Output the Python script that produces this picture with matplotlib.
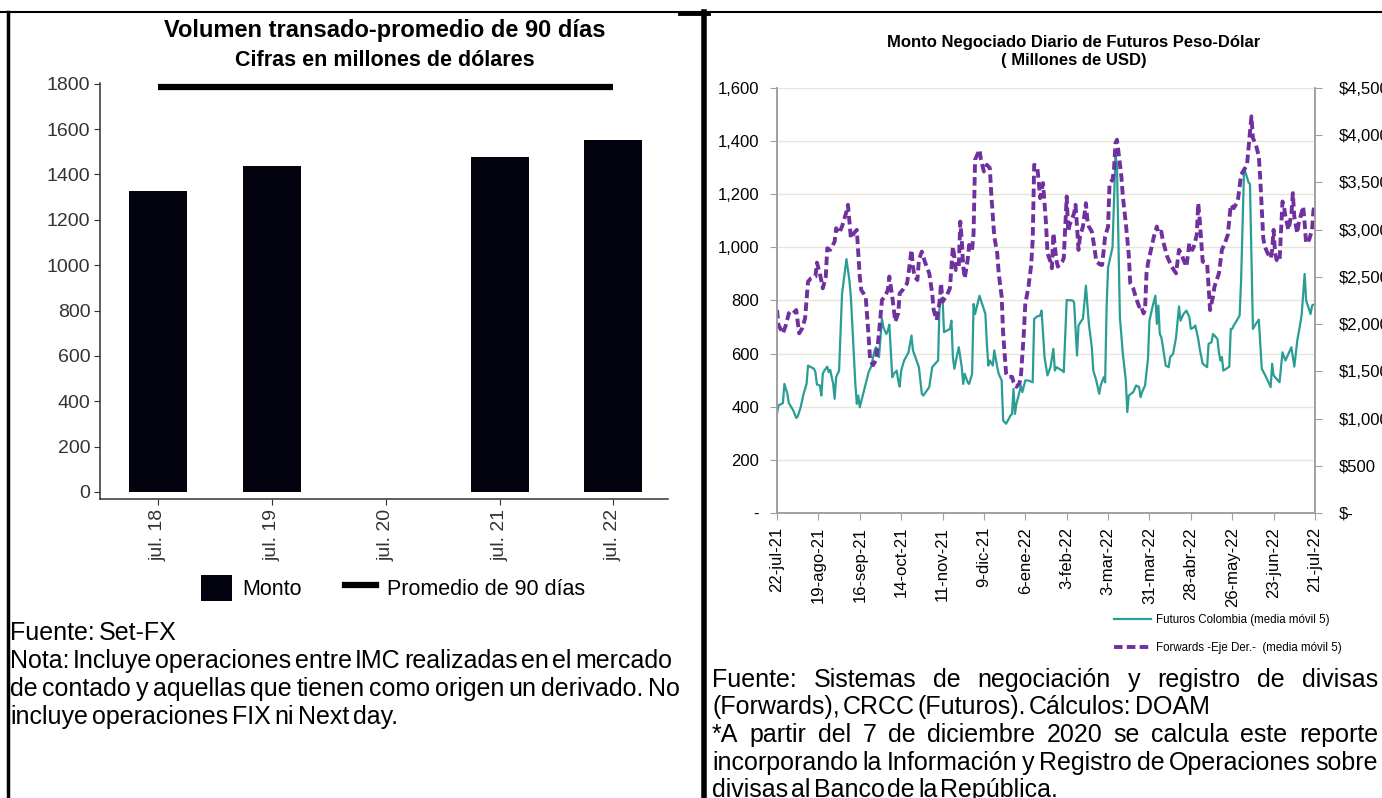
import numpy as np
import pandas as pd
import matplotlib
matplotlib.use('Agg')
import matplotlib.pyplot as plt
from matplotlib.lines import Line2D
from matplotlib.patches import Patch

plt.rcParams['font.family'] = ['Liberation Sans', 'DejaVu Sans']

# --- panel izquierdo: volumen transado (millones de USD)
categorias = ['jul. 18', 'jul. 19', 'jul. 20', 'jul. 21', 'jul. 22']
monto = [1325, 1437, np.nan, 1478, 1552]
promedio_90 = [1785, 1785, 1785, 1785, 1785]

# --- panel derecho: dias desde el 22-jul-21 y montos (media movil 5)
inicio = pd.Timestamp('2021-07-22')
fut_dias = [0, 1, 4, 5, 7, 8, 11, 13, 14, 16, 18, 20, 21, 25, 26, 27, 29, 30, 31, 32, 34, 35, 36, 38, 39, 40,
            42, 44, 47, 49, 50, 53, 54, 55, 56, 58, 60, 62, 64, 65, 66, 67, 69, 71, 72, 74, 75, 76, 78, 79,
            81, 82, 83, 84, 86, 89, 91, 92, 96, 98, 99, 103, 105, 107, 109, 110, 112, 113, 117, 118, 119,
            120, 122, 123, 125, 126, 127, 129, 130, 132, 133, 134, 137, 141, 142, 143, 144, 146, 147, 149,
            150, 152, 153, 155, 156, 158, 159, 160, 161, 162, 164, 165, 166, 168, 170, 173, 174, 176, 178,
            179, 181, 183, 185, 187, 188, 189, 193, 194, 196, 200, 201, 203, 204, 206, 207, 209, 211, 213,
            214, 216, 218, 219, 221, 222, 223, 224, 227, 229, 230, 232, 234, 236, 237, 238, 241, 243, 245,
            246, 247, 249, 251, 252, 254, 256, 257, 258, 259, 260, 261, 263, 265, 266, 268, 270, 272, 273,
            275, 277, 279, 280, 282, 283, 285, 286, 288, 291, 292, 294, 295, 296, 298, 299, 300, 301, 302,
            304, 306, 307, 308, 309, 311, 313, 314, 316, 317, 319, 320, 322, 324, 326, 328, 331, 334, 335,
            336, 340, 342, 344, 346, 348, 350, 352, 354, 355, 357, 358, 361, 362, 364]
fut_monto = [373, 405, 414, 486, 449, 414, 386, 358, 363, 398, 449, 486, 555, 543, 530, 484, 480, 442, 524, 536,
             551, 530, 539, 486, 430, 511, 536, 825, 956, 875, 812, 486, 411, 442, 398, 442, 486, 530, 555,
             587, 612, 624, 587, 731, 699, 674, 687, 709, 511, 524, 536, 499, 476, 536, 574, 605, 668, 612,
             549, 449, 442, 474, 549, 562, 574, 793, 812, 681, 693, 724, 587, 543, 599, 624, 549, 486, 524,
             492, 486, 524, 787, 749, 818, 749, 637, 555, 574, 555, 612, 549, 524, 499, 348, 336, 346, 367,
             373, 467, 373, 411, 455, 480, 455, 499, 499, 492, 731, 740, 743, 762, 587, 518, 549, 618, 536,
             549, 536, 530, 802, 800, 793, 593, 706, 724, 731, 856, 712, 624, 536, 499, 449, 480, 511, 492,
             775, 925, 1000, 1345, 1313, 737, 599, 499, 380, 442, 455, 480, 474, 436, 455, 480, 580, 724, 775,
             818, 712, 781, 674, 662, 630, 555, 549, 587, 599, 662, 778, 724, 749, 762, 737, 693, 699, 706,
             655, 618, 562, 549, 637, 643, 674, 668, 655, 605, 574, 587, 536, 543, 551, 693, 693, 706, 724,
             743, 875, 1295, 1282, 1245, 1238, 693, 712, 728, 543, 511, 474, 562, 518, 492, 605, 574, 599,
             624, 551, 649, 712, 749, 900, 800, 749, 781, 787]
fwd_dias = [0, 1, 4, 6, 8, 9, 11, 13, 15, 17, 19, 21, 23, 26, 27, 29, 31, 33, 34, 36, 39, 40, 42, 44, 47, 48,
            50, 52, 54, 56, 57, 60, 62, 63, 65, 67, 69, 71, 73, 75, 76, 78, 80, 82, 83, 85, 88, 89, 91, 92,
            93, 95, 96, 98, 100, 103, 105, 106, 108, 110, 111, 112, 115, 117, 119, 120, 121, 123, 124, 125,
            126, 127, 129, 130, 132, 133, 134, 135, 137, 138, 140, 142, 144, 145, 147, 149, 150, 152, 153,
            155, 156, 159, 160, 162, 164, 165, 167, 168, 170, 172, 173, 174, 176, 177, 178, 179, 180, 181,
            182, 183, 185, 186, 187, 188, 189, 190, 193, 194, 196, 197, 198, 201, 202, 204, 205, 207, 209,
            210, 211, 213, 215, 216, 219, 220, 222, 224, 225, 227, 228, 229, 230, 231, 233, 234, 236, 238,
            239, 241, 243, 245, 246, 248, 249, 250, 251, 253, 255, 257, 258, 260, 261, 264, 267, 270, 272,
            274, 275, 277, 279, 281, 282, 284, 285, 286, 288, 291, 292, 293, 295, 296, 299, 301, 303, 305,
            307, 309, 311, 312, 314, 316, 318, 320, 321, 322, 324, 326, 327, 329, 330, 332, 334, 335, 336,
            337, 338, 340, 342, 343, 344, 346, 348, 349, 350, 352, 353, 356, 357, 358, 360, 362, 363, 364]
fwd_monto = [2149, 1990, 1902, 1990, 2114, 2132, 2114, 2149, 1902, 1955, 2061, 2450, 2485, 2503, 2651, 2538,
             2379, 2503, 2803, 2786, 2874, 3015, 2962, 3033, 3192, 3263, 2909, 2962, 2998, 2503, 2361, 2291,
             1866, 1619, 1566, 1619, 1902, 2255, 2291, 2361, 2503, 2291, 2026, 2114, 2326, 2361, 2432, 2538,
             2786, 2609, 2503, 2467, 2680, 2768, 2662, 2538, 2326, 2149, 2043, 2238, 2432, 2238, 2308, 2379,
             2821, 2715, 2573, 2609, 3086, 2892, 2609, 2485, 2680, 2839, 2786, 2962, 3740, 3775, 3846, 3740,
             3616, 3687, 3652, 3369, 2927, 2750, 2538, 2291, 1902, 1478, 1442, 1442, 1389, 1336, 1372, 1442,
             1902, 2220, 2379, 2627, 2892, 3687, 3669, 3528, 3334, 3405, 3493, 3280, 3068, 2750, 2662, 2591,
             2962, 2821, 2680, 2609, 2662, 2697, 3351, 2980, 3051, 3174, 3263, 2786, 2927, 3033, 3280, 3104,
             3033, 2980, 2786, 2662, 2627, 2627, 2927, 3033, 3493, 3528, 3634, 3917, 3952, 3828, 3563, 3351,
             3068, 2733, 2432, 2379, 2273, 2185, 2202, 2114, 2149, 2538, 2644, 2786, 2927, 3033, 2962, 2980,
             2892, 2715, 2609, 2538, 2786, 2733, 2680, 2609, 2856, 2786, 2821, 2945, 3280, 3104, 2662, 2644,
             2397, 2149, 2291, 2397, 2538, 2786, 2856, 2945, 3263, 3228, 3280, 3334, 3581, 3634, 3687, 4023,
             4200, 3970, 3899, 3775, 3528, 2909, 2821, 2750, 2697, 2786, 2998, 2750, 2680, 2662, 3298, 3245,
             3139, 2998, 3157, 3387, 3139, 2962, 3068, 3245, 3068, 2856, 2892, 2998, 3210, 3245]
fechas_ticks = ['22-jul-21', '19-ago-21', '16-sep-21', '14-oct-21', '11-nov-21', '9-dic-21', '6-ene-22',
                '3-feb-22', '3-mar-22', '31-mar-22', '28-abr-22', '26-may-22', '23-jun-22', '21-jul-22']
izq_ticks = ['-', '200', '400', '600', '800', '1,000', '1,200', '1,400', '1,600']
der_ticks = ['$-', '$500', '$1,000', '$1,500', '$2,000', '$2,500', '$3,000', '$3,500', '$4,000', '$4,500']

W, H = 1382, 798
fig = plt.figure(figsize=(W / 100, H / 100), dpi=100)


def fx(px):
    return px / W


def fy(py):
    return 1 - py / H


# marco de la tabla
for xs, ys, lw in [([0, W], [12, 12], 1.5), ([680, 708], [13, 13], 3.5),
                   ([8, 8], [12, H], 2.5), ([704, 704], [12, H], 4)]:
    fig.add_artist(Line2D([fx(v) for v in xs], [fy(v) for v in ys], color='black', lw=lw,
                          transform=fig.transFigure))

# ---------- grafico izquierdo
ax1 = fig.add_axes([fx(100), fy(499), (668 - 100) / W, (499 - 83) / H])
x = np.arange(len(categorias))
ax1.bar(x, monto, width=0.51, color='#03030F')
ax1.plot(x, promedio_90, color='black', lw=4.5, solid_capstyle='butt')
ax1.set_xlim(-0.51, 4.48)
ax1.set_ylim(-31, 1803)
ax1.set_yticks(range(0, 1801, 200))
ax1.set_xticks(x)
ax1.set_xticklabels(categorias, rotation=90)
for s in ['top', 'right']:
    ax1.spines[s].set_visible(False)
for s in ['left', 'bottom']:
    ax1.spines[s].set_color('#333333')
    ax1.spines[s].set_linewidth(1.1)
ax1.tick_params(direction='out', length=4, color='#333333', labelsize=14, labelcolor='#333333', pad=3)
ax1.legend([Patch(facecolor='#03030F'), Line2D([], [], color='black', lw=4.5)],
           ['Monto', 'Promedio de 90 días'], ncol=2, loc='center',
           bbox_to_anchor=(fx(393), fy(588)), bbox_transform=fig.transFigure, frameon=False,
           fontsize=15.5, handlelength=1.45, handleheight=1.45, handletextpad=0.5, columnspacing=2.0)

fig.text(fx(385), fy(30), 'Volumen transado-promedio de 90 días', ha='center', va='center',
         fontsize=17, fontweight='bold')
fig.text(fx(385), fy(60), 'Cifras en millones de dólares', ha='center', va='center',
         fontsize=15.5, fontweight='bold')

# ---------- grafico derecho
ax2 = fig.add_axes([fx(777), fy(513), (1315 - 777) / W, (513 - 88) / H])
fut_fechas = inicio + pd.to_timedelta(fut_dias, unit='D')
fwd_fechas = inicio + pd.to_timedelta(fwd_dias, unit='D')
l1, = ax2.plot(fut_fechas, fut_monto, color='#2A9D94', lw=1.6)
ax2.set_ylim(0, 1600)
ax2.set_yticks(range(0, 1601, 200))
ax2.set_yticklabels(izq_ticks)
ax2.grid(axis='y', color='#E8E6D4', lw=1)
ax2.set_axisbelow(True)
tick_fechas = pd.date_range(inicio, periods=len(fechas_ticks), freq='28D')
ax2.set_xticks(tick_fechas)
ax2.set_xticklabels(fechas_ticks, rotation=90)
ax2.set_xlim(inicio, tick_fechas[-1])

ax3 = ax2.twinx()
l2, = ax3.plot(fwd_fechas, fwd_monto, color='#7030A0', lw=2.8, ls=(0, (2.2, 1.1)))
ax3.set_ylim(0, 4500)
ax3.set_yticks(range(0, 4501, 500))
ax3.set_yticklabels(der_ticks)

for a in (ax2, ax3):
    a.spines['top'].set_visible(False)
    for s in ['left', 'right', 'bottom']:
        a.spines[s].set_color('#A0A0A0')
        a.spines[s].set_linewidth(1.2)
    a.tick_params(direction='out', length=5, color='#A0A0A0', labelsize=12, labelcolor='black')
ax2.tick_params(axis='y', pad=8)
ax2.tick_params(axis='x', pad=5)
ax3.tick_params(axis='y', pad=12)

fig.text(fx(1074), fy(42), 'Monto Negociado Diario de Futuros Peso-Dólar', ha='center', va='center',
         fontsize=12, fontweight='bold')
fig.text(fx(1074), fy(60), '( Millones de USD)', ha='center', va='center', fontsize=12, fontweight='bold')

fig.legend([l1, l2], ['Futuros Colombia (media móvil 5)', 'Forwards -Eje Der.-  (media móvil 5)'],
           loc='center left', bbox_to_anchor=(fx(1104), fy(634)), frameon=False,
           fontsize=8.3, handlelength=3.2, handletextpad=0.4, labelspacing=1.35)

# ---------- notas al pie
rend = fig.canvas.get_renderer()


def linea(texto, x0, x1, y, justificar=True, size=18, gap_libre=0.26):
    palabras = texto.split()
    objs = [fig.text(0, fy(y), p, fontsize=size, va='baseline') for p in palabras]
    anchos = [t.get_window_extent(rend).width for t in objs]
    if justificar and len(objs) > 1:
        gap = (x1 - x0 - sum(anchos)) / (len(objs) - 1)
    else:
        gap = size * 100 / 72 * gap_libre
    xp = x0
    for t, a in zip(objs, anchos):
        t.set_x(fx(xp))
        xp += a + gap


linea('Fuente: Set-FX', 10, 680, 640, justificar=False, gap_libre=0.18)
linea('Nota: Incluye operaciones entre IMC realizadas en el mercado', 10, 672, 668)
linea('de contado y aquellas que tienen como origen un derivado. No', 10, 680, 696)
linea('incluye operaciones FIX ni Next day.', 10, 680, 724, justificar=False, gap_libre=0.16)

linea('Fuente: Sistemas de negociación y registro de divisas', 712, 1378, 687)
linea('(Forwards), CRCC (Futuros). Cálculos: DOAM', 712, 1378, 714, justificar=False, gap_libre=0.12)
linea('*A partir del 7 de diciembre 2020 se calcula este reporte', 712, 1378, 742)
linea('incorporando la Información y Registro de Operaciones sobre', 712, 1378, 770)
linea('divisas al Banco de la República.', 712, 1378, 797, justificar=False, gap_libre=0.12)

fig.savefig('out.png', dpi=100)
